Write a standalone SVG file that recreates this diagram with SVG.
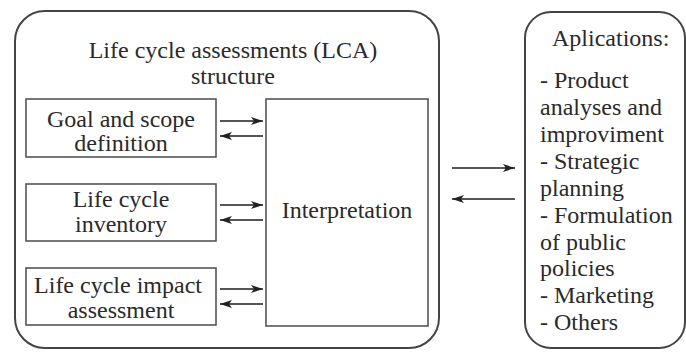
<svg xmlns="http://www.w3.org/2000/svg" width="686" height="353" viewBox="0 0 686 353">
<defs>
<marker id="ah" viewBox="0 0 12 8" refX="12" refY="4" markerWidth="12" markerHeight="8" markerUnits="userSpaceOnUse" orient="auto">
<path d="M0,0 L12,4 L0,8 L3,4 Z" fill="#222"/>
</marker>
</defs>
<style>
.box{fill:#fff;stroke:#555;stroke-width:1.6}
.outer{fill:#fff;stroke:#444;stroke-width:2}
.t{font-family:"Liberation Serif","Times New Roman",serif;font-size:24px;fill:#2a2a2a}
.c{text-anchor:middle}
.ar{stroke:#555;stroke-width:2;fill:none;marker-end:url(#ah)}
</style>
<rect width="686" height="353" fill="#fff"/>
<g id="lca">
<rect class="outer" x="15" y="11" width="424" height="337" rx="30" ry="30"/>
<text class="t c" x="233" y="58">Life cycle assessments (LCA)</text>
<text class="t c" x="233" y="84">structure</text>
</g>
<g id="goal">
<rect class="box" x="26" y="99" width="190" height="58"/>
<text class="t c" x="121" y="126.5">Goal and scope</text>
<text class="t c" x="121" y="151">definition</text>
</g>
<g id="inventory">
<rect class="box" x="26" y="184" width="190" height="57"/>
<text class="t c" x="121" y="207">Life cycle</text>
<text class="t c" x="121" y="232">inventory</text>
</g>
<g id="impact">
<rect class="box" x="26" y="268" width="190" height="57"/>
<text class="t c" x="118" y="292.5">Life cycle impact</text>
<text class="t c" x="121" y="318">assessment</text>
</g>
<g id="interpretation">
<rect class="box" x="266" y="99" width="162" height="227"/>
<text class="t c" x="347" y="218">Interpretation</text>
</g>
<g id="applications">
<rect class="outer" x="525" y="12" width="160" height="336" rx="26" ry="26"/>
<text class="t" x="552" y="46">Aplications:</text>
<text class="t" x="540" y="88">- Product</text>
<text class="t" x="540" y="115">analyses and</text>
<text class="t" x="540" y="142">improviment</text>
<text class="t" x="540" y="168.5">- Strategic</text>
<text class="t" x="540" y="195.5">planning</text>
<text class="t" x="540" y="222.5">- Formulation</text>
<text class="t" x="540" y="249.5">of public</text>
<text class="t" x="540" y="276">policies</text>
<text class="t" x="540" y="303">- Marketing</text>
<text class="t" x="540" y="330">- Others</text>
</g>
<g id="connectors">
<line class="ar" x1="220" y1="121" x2="263" y2="121"/>
<line class="ar" x1="263" y1="136" x2="220" y2="136"/>
<line class="ar" x1="220" y1="205" x2="263" y2="205"/>
<line class="ar" x1="263" y1="220" x2="220" y2="220"/>
<line class="ar" x1="220" y1="289" x2="263" y2="289"/>
<line class="ar" x1="263" y1="304" x2="220" y2="304"/>
<line class="ar" x1="452" y1="168" x2="515" y2="168"/>
<line class="ar" x1="515" y1="199" x2="452" y2="199"/>
</g>
</svg>
